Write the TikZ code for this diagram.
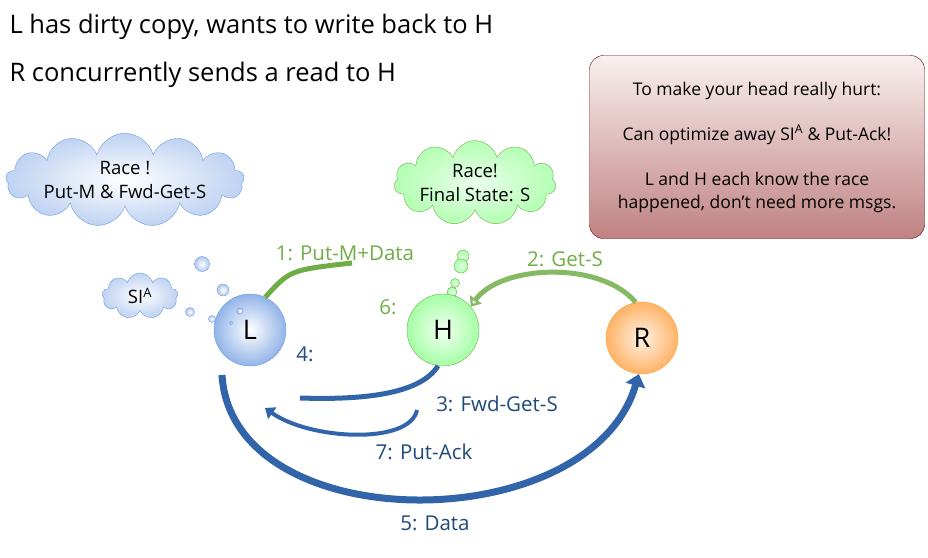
\documentclass[tikz,border=0pt]{standalone}
\usepackage{fontspec}
\setmainfont{Open Sans}
\usetikzlibrary{shapes.symbols,arrows.meta}
\definecolor{dblue}{RGB}{31,73,125}
\definecolor{mblue}{RGB}{50,100,170}
\definecolor{lgreen}{RGB}{112,173,71}
\definecolor{cblue}{RGB}{110,155,225}
\definecolor{boxbot}{RGB}{192,130,130}
\definecolor{boxtop}{RGB}{250,240,240}
\begin{document}
\begin{tikzpicture}[x=1pt,y=-1pt,
  txt/.style={font=\fontsize{25.5}{30}\selectfont},
  lbl/.style={font=\fontsize{20.5}{24}\selectfont},
  circ/.style={circle,minimum size=72pt,font=\fontsize{27}{32}\selectfont},
  cl/.style={cloud,cloud puffs=13,cloud ignores aspect,inner sep=0pt,align=center,font=\fontsize{18.5}{24}\selectfont},
  bcloud/.style={cl,draw=cblue,inner color=white,outer color=cblue!45},
  gcloud/.style={cl,draw=lgreen,inner color=green!8,outer color=green!30},
  bub/.style={circle,draw=cblue,inner color=white,outer color=cblue!55,inner sep=0pt},
  gbub/.style={circle,draw=lgreen,inner color=green!8,outer color=green!35,inner sep=0pt},
  bigarr/.style={line width=7pt,-{Triangle[length=12pt,width=20pt]}},
  midarr/.style={line width=4pt,-{Triangle[length=9pt,width=14pt]}}]
\useasboundingbox (0,0) rectangle (928,557);
\node[txt,anchor=west] (t1) at (6,27) {L has dirty copy, wants to write back to H};
\node[txt,anchor=west] (t2) at (6,75) {R concurrently sends a read to H};
\node[draw=red!40!black,rounded corners=14pt,top color=boxtop,bottom color=boxbot,
  minimum width=335pt,minimum height=183pt,align=center,font=\fontsize{17.5}{23}\selectfont] (box) at (757,147)
  {To make your head really hurt:\\[22pt] Can optimize away SI\textsuperscript{A} \& Put-Ack!\\[22pt] L and H each know the race\\ happened, don't need more msgs.};
\node[bcloud,minimum width=238pt,minimum height=92pt] (c1) at (125,180) {Race !\\Put-M \& Fwd-Get-S};
\node[bcloud,minimum width=76pt,minimum height=46pt,cloud puffs=9] (c2) at (140,296) {SI\textsuperscript{A}};
\node[gcloud,minimum width=150pt,minimum height=80pt,cloud puffs=11] (c3) at (475,183) {Race!\\Final State: S};
\node[bub,minimum size=15pt] (b1) at (202,264) {};
\node[bub,minimum size=12pt] (b2) at (223,290) {};
\node[bub,minimum size=9pt] (b3) at (190,312) {};
\node[bub,minimum size=7pt] (b4) at (212,319) {};
\node[gbub,minimum size=12pt] (g1) at (463,256) {};
\node[gbub,minimum size=14pt] (g2) at (461,266) {};
\node[gbub,minimum size=9pt] (g3) at (455,283) {};
\node[gbub,minimum size=10pt] (g4) at (452,292) {};
\node[gbub,minimum size=6pt] (g5) at (449,302) {};
\node[gbub,minimum size=6pt] (g6) at (445,310) {};
\node[circ,draw=cblue,inner color=white,outer color=cblue!75] (L) at (250,330) {L};
\node[circ,draw=lgreen,inner color=green!5,outer color=green!35] (H) at (443,330) {H};
\node[circ,draw=orange!70,inner color=orange!10,outer color=orange!60] (R) at (642,338) {R};
\node[bub,minimum size=6pt] (b5) at (240,311) {};
\node[bub,minimum size=3pt] (b6) at (231,323) {};
\coordinate (e1) at (352,263);
\draw[line width=5pt,lgreen] (L.65) .. controls (290,270) .. (e1);
\draw[line width=5pt,lgreen!85,-{Triangle[length=9pt,width=14pt,open,fill=white]}] (R.100) .. controls (600,260) and (500,265) .. (H.40);
\coordinate (e3) at (300,398);
\draw[line width=5pt,mblue] (H.262) .. controls (420,395) and (360,400) .. (e3);
\draw[midarr,mblue] (417,410) .. controls (410,445) and (310,440) .. (265,408);
\draw[bigarr,mblue] (222,375) .. controls (232,540) and (590,540) .. (R.265);
\node[lbl,text=lgreen] (l1) at (345,253) {1: Put-M+Data};
\node[lbl,text=lgreen] (l2) at (565,259) {2: Get-S};
\node[lbl,text=dblue] (l3) at (497,404) {3: Fwd-Get-S};
\node[lbl,text=dblue] (l4) at (305,354) {4:};
\node[lbl,text=dblue] (l5) at (435,523) {5: Data};
\node[lbl,text=lgreen] (l6) at (388,307) {6:};
\node[lbl,text=dblue] (l7) at (424,452) {7: Put-Ack};
\end{tikzpicture}
\end{document}
